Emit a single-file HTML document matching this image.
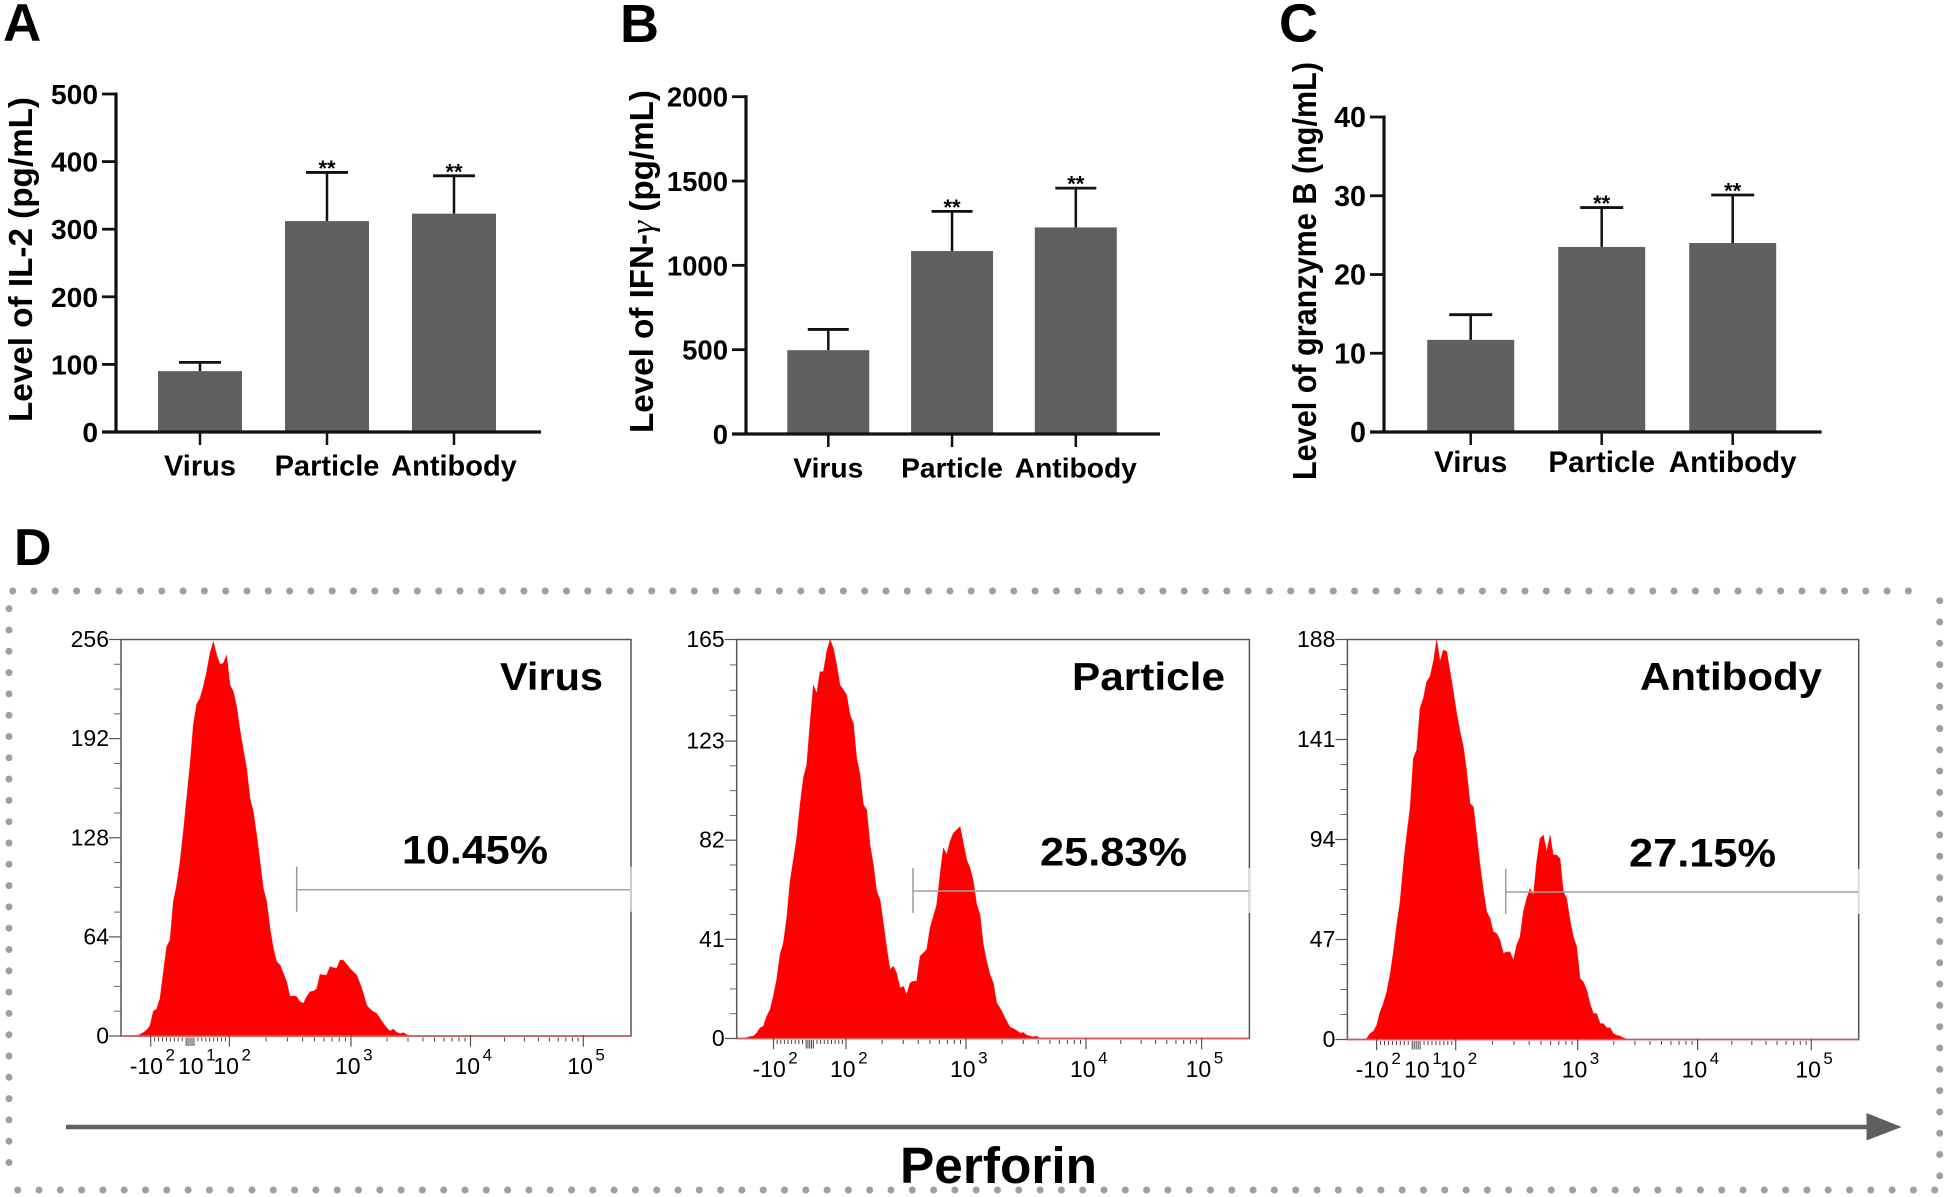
<!DOCTYPE html>
<html lang="en">
<head>
<meta charset="utf-8">
<title>Cytokine levels and perforin flow cytometry</title>
<style>
html,body{margin:0;padding:0;background:#fff}
svg{display:block}
text{font-family:"Liberation Sans",sans-serif;fill:#000}
.b{font-weight:bold}
</style>
</head>
<body>
<svg id="fig" width="1946" height="1197" viewBox="0 0 1946 1197" xmlns="http://www.w3.org/2000/svg">
  <rect width="1946" height="1197" fill="#fff"/>
  <text class="b" x="3" y="41" font-size="53">A</text>
  <text class="b" x="620" y="42" font-size="54">B</text>
  <text class="b" x="1279" y="41.5" font-size="54">C</text>
  <text class="b" x="14" y="565" font-size="52">D</text>

  <text class="b" transform="translate(32 422) rotate(-90)" font-size="33" textLength="325" lengthAdjust="spacingAndGlyphs">Level of IL-2 (pg/mL)</text>
  <text class="b" transform="translate(653 433) rotate(-90)" font-size="33" textLength="343" lengthAdjust="spacingAndGlyphs">Level of IFN-<tspan font-family="Liberation Serif" font-style="italic" font-weight="normal">γ</tspan> (pg/mL)</text>
  <text class="b" transform="translate(1316 480) rotate(-90)" font-size="33" textLength="418" lengthAdjust="spacingAndGlyphs">Level of granzyme B (ng/mL)</text>

  <g id="bars"></g>
  <g id="hists"></g>
  <g id="dots"></g>

  <text class="b" x="500" y="690" font-size="39" textLength="103" lengthAdjust="spacingAndGlyphs">Virus</text>
  <text class="b" x="1072" y="690" font-size="39" textLength="153" lengthAdjust="spacingAndGlyphs">Particle</text>
  <text class="b" x="1640" y="690" font-size="39" textLength="182" lengthAdjust="spacingAndGlyphs">Antibody</text>
  <text class="b" x="402" y="863.5" font-size="40" textLength="146" lengthAdjust="spacingAndGlyphs">10.45%</text>
  <text class="b" x="1040" y="865.5" font-size="40" textLength="147" lengthAdjust="spacingAndGlyphs">25.83%</text>
  <text class="b" x="1629" y="866.5" font-size="40" textLength="147" lengthAdjust="spacingAndGlyphs">27.15%</text>

  <line x1="66" y1="1127" x2="1870" y2="1127" stroke="#5f5f5f" stroke-width="4.6"/>
  <polygon points="1866.5,1113 1901.6,1127 1866.5,1140.5" fill="#5f5f5f"/>
  <text class="b" x="900" y="1183" font-size="51" textLength="197" lengthAdjust="spacingAndGlyphs">Perforin</text>
</svg>
<script>
// ---------- Bar chart data ----------
var categories = ["Virus", "Particle", "Antibody"];
var significance = ["", "**", "**"];
var il2Means = [90, 312, 323];
var il2Errors = [103, 384, 379];
var il2Ticks = [0, 100, 200, 300, 400, 500];
var ifnMeans = [497, 1085, 1225];
var ifnErrors = [620, 1320, 1458];
var ifnTicks = [0, 500, 1000, 1500, 2000];
var gzmMeans = [11.7, 23.5, 24];
var gzmErrors = [14.9, 28.5, 30.1];
var gzmTicks = [0, 10, 20, 30, 40];

// ---------- Histogram data (events per bin) ----------
var virusCounts = [1.1,2.2,3.9,6.7,16.1,17.4,24.3,41.1,57.7,62,86.8,97.5,112.6,132,153.5,175,200.9,214.2,218.1,225.6,235.3,247.2,254.7,246.1,240,240.7,246,226.7,222.4,212.7,197.6,184.7,172.9,153.5,144.9,129.8,112.6,95.4,86.8,69.5,56.6,48,45.9,40.5,35.1,25.4,26,25.4,22.2,21.1,25.4,28.6,29,30.4,39.8,39.4,39.4,44.8,44.1,43.7,49,49,46.3,43.7,41.5,39.4,34,27.6,20,17.4,15.7,14.6,11.4,8.2,5.4,3.2,4.5,2.4,1.5,2.2,0.9];
var particleCounts = [0.4,0.8,1,2.3,4.4,5.1,9.2,12,17.5,24.4,34.7,39.5,49.8,65,73.9,82.9,96.7,107.7,113.2,130.4,146.2,142.8,151.7,151.7,160,165,161.4,154.5,146.2,144.2,142.1,133.8,130.4,115.9,109.1,96.7,94.6,80.1,71.9,60.9,57.4,47.8,37.5,28.5,29.9,27.1,20.9,21.6,18.2,23,23.7,23.7,34,35.4,36.8,45.7,50.5,55.4,67.7,78.8,76,81.5,85,86.3,87.7,80.8,73.9,70.5,65,55.4,51.2,38.8,31.9,26.4,23,14.7,12.7,9.9,7.2,4.7,4.1,3.3,2.3,2.5,1.4,1,0.7,1];
var antibodyCounts = [0.5,2.8,3.9,6.7,13,16.9,22.4,30.3,41.2,53.8,64.8,82,96.1,108.7,132.2,136.1,155.7,160.4,168.2,170.6,177.7,188,177.7,183.1,182.4,173,163.5,153.4,144.7,137.7,125.9,111,109.4,96.1,82,70.2,60.1,56.9,50.6,49.9,46.7,40.5,41.2,41.2,37.3,44.4,48.3,60.1,66.3,71,67.9,83.6,94.6,96.1,88.3,96.1,86.7,86.7,85.1,69.5,66.3,56.1,48.3,43.6,28.7,27.1,23.2,16.9,12.2,12.2,7.5,7.5,5.5,5.5,2.8,2,1.6,0.8,0.2];
var virusYTicks = [0, 64, 128, 192, 256];
var particleYTicks = [0, 41, 82, 123, 165];
var antibodyYTicks = [0, 47, 94, 141, 188];
var virusXTicks = [-100, 10, 100, 1000, 10000, 100000];
var particleXTicks = [-100, 100, 1000, 10000, 100000];
var antibodyXTicks = [-100, 10, 100, 1000, 10000, 100000];

var NS = "http://www.w3.org/2000/svg";
function mk(parent, tag, attrs, txt) {
  var el = document.createElementNS(NS, tag);
  for (var k in attrs) { el.setAttribute(k, attrs[k]); }
  if (txt !== undefined) { el.textContent = txt; }
  parent.appendChild(el);
  return el;
}

// ---------- Bar charts ----------
function renderBarChart(root, key, means, errors, ticks, o) {
  var g = mk(root, "g", {});
  
  
  var maxV = ticks[ticks.length - 1];
  function y(v) { return o.y0 - v / maxV * (o.y0 - o.yTop); }
  function cx(i) { return o.x1 + i * o.step; }

  categories.forEach(function (c, i) {
    var bar = mk(g, "rect", {x: cx(i) - o.barW / 2, y: y(means[i]), width: o.barW, height: o.y0 - y(means[i]), fill: "#606060"});
    
    
    var stem = mk(g, "line", {x1: cx(i), x2: cx(i), y1: y(means[i]), y2: y(errors[i]), stroke: "#111", "stroke-width": 2.5});
    
    
    var cap = mk(g, "line", {x1: cx(i) - o.capW / 2, x2: cx(i) + o.capW / 2, y1: y(errors[i]), y2: y(errors[i]), stroke: "#111", "stroke-width": 2.8});
    
    
    if (significance[i]) {
      var star = mk(g, "text", {x: cx(i), y: y(errors[i]) + 3.5, "font-size": 22, "font-weight": "bold", "text-anchor": "middle"}, significance[i]);
      
      
    }
    var tk = mk(g, "line", {x1: cx(i), x2: cx(i), y1: o.y0, y2: o.y0 + 13, stroke: "#111", "stroke-width": 2.5});
    
    
    var lab = mk(g, "text", {x: cx(i), y: o.labelY, "font-size": o.catFont, "font-weight": "bold", "text-anchor": "middle"}, c);
    
    
  });

  var yAxis = mk(g, "line", {x1: o.x0, x2: o.x0, y1: o.yTop - 1.5, y2: o.y0 + 1.5, stroke: "#111", "stroke-width": 3.2});
  
  
  var xAxis = mk(g, "line", {x1: o.x0 - 14, x2: o.xEnd, y1: o.y0, y2: o.y0, stroke: "#111", "stroke-width": 3.2});
  
  

  ticks.forEach(function (t) {
    var tl = mk(g, "line", {x1: o.x0 - 14, x2: o.x0, y1: y(t), y2: y(t), stroke: "#111", "stroke-width": 2.8});
    
    
    var tt = mk(g, "text", {x: o.x0 - 18, y: y(t) + 10, "font-size": o.tickFont, "font-weight": "bold", "text-anchor": "end"}, String(t));
    
    
  });
}

var barRoot = document.getElementById("bars");
renderBarChart(barRoot, "il2", il2Means, il2Errors, il2Ticks, {x0: 116, xEnd: 541, yTop: 94, y0: 432, x1: 200, step: 127, barW: 84, capW: 42, labelY: 475.5, catFont: 29, tickFont: 28.2});
renderBarChart(barRoot, "ifn", ifnMeans, ifnErrors, ifnTicks, {x0: 746, xEnd: 1160, yTop: 96.7, y0: 434, x1: 828.3, step: 123.75, barW: 82, capW: 41, labelY: 477.5, catFont: 28.2, tickFont: 27.5});
renderBarChart(barRoot, "gzm", gzmMeans, gzmErrors, gzmTicks, {x0: 1384, xEnd: 1821.6, yTop: 117, y0: 432, x1: 1470.7, step: 131, barW: 87, capW: 43, labelY: 472, catFont: 29.5, tickFont: 28.7});

// ---------- Histograms ----------
function renderHistogram(root, key, counts, yTicks, xTicks, o) {
  var g = mk(root, "g", {});
  
  
  var maxV = yTicks[yTicks.length - 1];
  function y(v) { return o.bottom - v / maxV * (o.bottom - o.top); }
  // Logicle-style axis: linear between -100 and 100, log above, calibrated per panel.
  function x(v) {
    if (v <= 100) { return o.xNeg + (v + 100) / 200 * (o.x2 - o.xNeg); }
    var l = Math.log(v) / Math.LN10;
    if (l <= 3) { return o.x2 + (l - 2) * (o.x3 - o.x2); }
    if (l <= 4) { return o.x3 + (l - 3) * (o.x4 - o.x3); }
    return o.x4 + (l - 4) * (o.x5 - o.x4);
  }

  var frame = mk(g, "rect", {x: o.left, y: o.top, width: o.right - o.left, height: o.bottom - o.top, fill: "#fff", stroke: "#555", "stroke-width": 1.5});
  
  

  var w = 10 / 3;
  var pts = [(o.histStart - w) + "," + o.bottom];
  counts.forEach(function (c, i) {
    pts.push((o.histStart + i * w) + "," + y(c));
  });
  pts.push((o.histStart + counts.length * w) + "," + o.bottom);
  var fill = mk(g, "polygon", {points: pts.join(" "), fill: "#ff0000", stroke: "#f22", "stroke-width": 0.5});
  
  

  var base = mk(g, "line", {x1: o.left, x2: o.right, y1: o.bottom, y2: o.bottom, stroke: "#d65a5a", "stroke-width": 1.5});
  
  

  // y ticks
  for (var m = 0; m < yTicks.length - 1; m++) {
    for (var q = 1; q < 4; q++) {
      var mv = yTicks[m] + (yTicks[m + 1] - yTicks[m]) * q / 4;
      var mn = mk(g, "line", {x1: o.left - 7, x2: o.left, y1: y(mv), y2: y(mv), stroke: "#666", "stroke-width": 1});
      
      
    }
  }
  yTicks.forEach(function (t) {
    var tl = mk(g, "line", {x1: o.left - 12, x2: o.left, y1: y(t), y2: y(t), stroke: "#555", "stroke-width": 1.2});
    
    
    var tt = mk(g, "text", {x: o.left - 12, y: y(t) + 7.5, "font-size": 23, "text-anchor": "end"}, String(t));
    
    
  });

  // x minor ticks
  var minorVals = [];
  for (var v = -90; v < 100; v += 10) { minorVals.push(v); }
  [-5, 5].forEach(function (d) { minorVals.push(d); });
  [100, 1000, 10000].forEach(function (d) {
    for (var f = 2; f < 10; f++) { minorVals.push(d * f); }
  });
  minorVals.forEach(function (mvx) {
    var len = (mvx >= -10 && mvx <= 10) ? 10 : 5.5;
    var mk2 = mk(g, "line", {x1: x(mvx), x2: x(mvx), y1: o.bottom + 1.5, y2: o.bottom + len, stroke: "#444", "stroke-width": 1});
    
    
  });

  // x major ticks + labels
  xTicks.forEach(function (val) {
    var exp = Math.round(Math.log(Math.abs(val)) / Math.LN10);
    if (val !== 10) {
      var tk = mk(g, "line", {x1: x(val), x2: x(val), y1: o.bottom - 1, y2: o.bottom + 10.7, stroke: "#555", "stroke-width": 1.2});
      
      
    }
    var startX = val < 0 ? x(val) - 21 : x(val) - 16;
    var lab = mk(g, "text", {x: startX, y: o.labelY, "font-size": 23}, val < 0 ? "-10" : "10");
    
    
    var sup = mk(lab, "tspan", {dx: 2.5, dy: -13.5, "font-size": 17}, String(exp));
    
    
  });

  // gate marker
  var gv = mk(g, "line", {x1: o.gateX, x2: o.gateX, y1: o.gateY - 23, y2: o.gateY + 22, stroke: "#9a9a9a", "stroke-width": 1.5});
  
  
  var gh = mk(g, "line", {x1: o.gateX, x2: o.right, y1: o.gateY, y2: o.gateY, stroke: "#a0a0a0", "stroke-width": 1.5});
  
  
  var ge = mk(g, "line", {x1: o.right, x2: o.right, y1: o.gateY - 23, y2: o.gateY + 22, stroke: "#d8d8d8", "stroke-width": 1.5});
  
  
}

var histRoot = document.getElementById("hists");
renderHistogram(histRoot, "virus", virusCounts, virusYTicks, virusXTicks, {left: 121, right: 631, top: 639.5, bottom: 1036, xNeg: 150.7, x2: 229.4, x3: 351, x4: 470.5, x5: 583.3, histStart: 140, labelY: 1074, gateX: 296.7, gateY: 889.7});
renderHistogram(histRoot, "particle", particleCounts, particleYTicks, particleXTicks, {left: 736.7, right: 1249.4, top: 639.5, bottom: 1038.5, xNeg: 773.5, x2: 846, x3: 966, x4: 1086, x5: 1201.6, histStart: 746.7, labelY: 1077, gateX: 913, gateY: 891});
renderHistogram(histRoot, "antibody", antibodyCounts, antibodyYTicks, antibodyXTicks, {left: 1347.4, right: 1858.7, top: 639.5, bottom: 1039.5, xNeg: 1376.6, x2: 1455.7, x3: 1577.7, x4: 1697.6, x5: 1811.3, histStart: 1366.7, labelY: 1077.7, gateX: 1505.7, gateY: 892});

// ---------- Dotted border ----------
var dotRoot = document.getElementById("dots");
function dot(cx, cy) {
  var c = mk(dotRoot, "circle", {cx: cx, cy: cy, r: 3.5, fill: "#9e9ea3"});
  
  
}
var dotStep = 21.3;
for (var dx = 12.7; dx <= 1929; dx += dotStep) { dot(dx, 591); }
for (var bx = 17.7; bx <= 1935; bx += dotStep) { dot(bx, 1190); }
for (var ly = 608.7; ly <= 1183; ly += dotStep) { dot(9, ly); }
for (var ry = 600.7; ry <= 1176; ry += dotStep) { dot(1939.7, ry); }
</script>
</body>
</html>
